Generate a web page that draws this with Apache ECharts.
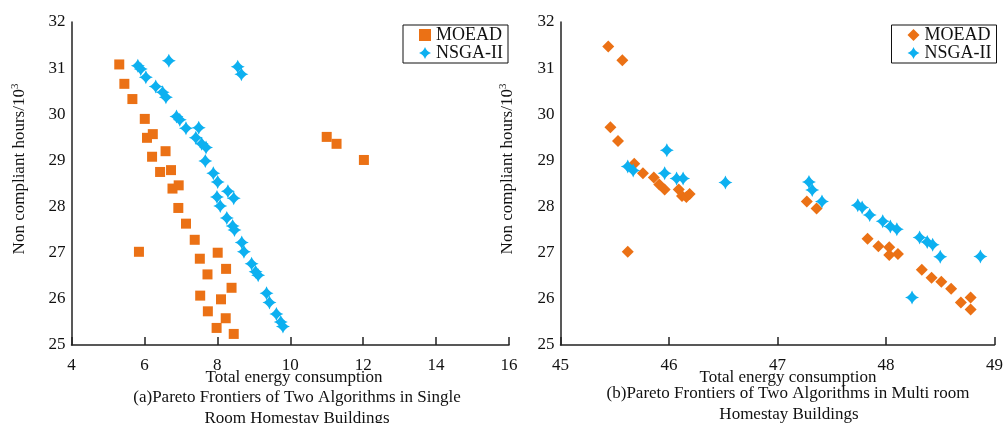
<!DOCTYPE html>
<html>
<head>
<meta charset="utf-8">
<script src="https://cdn.jsdelivr.net/npm/echarts@6/dist/echarts.min.js"></script>
<style>
  html, body { margin: 0; padding: 0; background: #fff; }
  #pareto_charts { width: 1006px; height: 423px; }
</style>
</head>
<body>
<div id="pareto_charts"></div>
<script>
// 算法名称
const algoNames = ['MOEAD', 'NSGA-II']

// 坐标轴刻度范围
const leftXTicks = [4, 16, 2]
const rightXTicks = [45, 49, 1]
const yTicks = [25, 32, 1]

// (a) 单房间 —— [能耗, 不满足小时数]
const leftMoead = [
  [5.31, 31.08], [5.45, 30.66], [5.67, 30.33], [6.01, 29.9], [6.07, 29.49],
  [6.23, 29.57], [6.21, 29.08], [6.58, 29.2], [6.43, 28.75], [6.73, 28.79],
  [6.77, 28.39], [6.94, 28.46], [6.93, 27.97], [7.14, 27.63], [7.38, 27.28],
  [7.52, 26.87], [8.01, 27.0], [7.73, 26.53], [8.24, 26.65], [8.39, 26.24],
  [7.53, 26.07], [8.1, 25.99], [7.74, 25.73], [8.23, 25.58], [7.98, 25.37],
  [8.45, 25.24], [5.85, 27.02], [11.0, 29.51], [11.27, 29.36], [12.02, 29.01]
]
const leftNsga = [
  [5.82, 31.05], [5.9, 30.98], [6.04, 30.8], [6.31, 30.6], [6.5, 30.48],
  [6.59, 30.37], [6.67, 31.16], [8.56, 31.03], [8.66, 30.87], [6.88, 29.95],
  [6.97, 29.88], [7.14, 29.7], [7.49, 29.71], [7.41, 29.49], [7.57, 29.36],
  [7.69, 29.28], [7.67, 28.99], [7.89, 28.72], [8.01, 28.53], [8.29, 28.33],
  [7.99, 28.21], [8.45, 28.18], [8.08, 28.01], [8.26, 27.75], [8.42, 27.58],
  [8.47, 27.49], [8.67, 27.22], [8.73, 27.02], [8.94, 26.76], [9.05, 26.59],
  [9.12, 26.51], [9.35, 26.12], [9.43, 25.92], [9.62, 25.67], [9.74, 25.5],
  [9.8, 25.4]
]

// (b) 多房间
const rightMoead = [
  [45.44, 31.47], [45.57, 31.17], [45.46, 29.72], [45.53, 29.42], [45.68, 28.93],
  [45.76, 28.72], [45.86, 28.63], [45.91, 28.48], [45.96, 28.37], [46.09, 28.37],
  [46.12, 28.23], [46.16, 28.21], [46.19, 28.27], [45.62, 27.02], [47.27, 28.11],
  [47.36, 27.96], [47.83, 27.3], [47.93, 27.14], [48.03, 27.12], [48.03, 26.95],
  [48.11, 26.97], [48.33, 26.63], [48.42, 26.46], [48.51, 26.37], [48.6, 26.22],
  [48.69, 25.92], [48.78, 26.03], [48.78, 25.77]
]
const rightNsga = [
  [45.98, 29.22], [45.62, 28.87], [45.67, 28.78], [45.96, 28.72], [46.07, 28.61],
  [46.13, 28.61], [46.52, 28.52], [47.29, 28.53], [47.32, 28.36], [47.41, 28.11],
  [47.74, 28.03], [47.78, 27.98], [47.85, 27.82], [47.97, 27.68], [48.04, 27.57],
  [48.1, 27.51], [48.31, 27.33], [48.38, 27.23], [48.43, 27.17], [48.5, 26.91],
  [48.87, 26.92], [48.24, 26.03]
]

const ORANGE = '#EB7115'
const BLUE = '#0DB0F0'
const FONT = 'Liberation Serif'
// 四角星
const STAR = 'path://M0,-10 Q2.6,-2.6 10,0 Q2.6,2.6 0,10 Q-2.6,2.6 -10,0 Q-2.6,-2.6 0,-10 Z'

const GRID_TOP = 22
const GRID_BOTTOM = 78

function xAxisOf(idx, ticks) {
  return {
    type: 'value',
    gridIndex: idx,
    min: ticks[0],
    max: ticks[1],
    interval: ticks[2],
    splitLine: { show: false },
    axisLine: { lineStyle: { color: '#222', width: 1.5 } },
    axisTick: { inside: true, length: 8, lineStyle: { color: '#222', width: 1.5 } },
    axisLabel: { color: '#111', fontFamily: FONT, fontSize: 17, margin: 12 },
  }
}

function yAxisOf(idx) {
  return {
    type: 'value',
    gridIndex: idx,
    min: yTicks[0],
    max: yTicks[1],
    interval: yTicks[2],
    splitLine: { show: false },
    axisLine: { show: true, lineStyle: { color: '#222', width: 1.5 } },
    axisTick: { show: false },
    axisLabel: { color: '#111', fontFamily: FONT, fontSize: 17, margin: 6 },
  }
}

function captionText(text, x, y) {
  return {
    type: 'text',
    x: x,
    y: y,
    style: {
      text: text,
      font: '17px "' + FONT + '"',
      fill: '#111',
      align: 'center',
      verticalAlign: 'middle',
    },
  }
}

function yNameText(x, y) {
  return {
    type: 'text',
    x: x,
    y: y,
    rotation: Math.PI / 2,
    style: {
      text: '{a|Non compliant hours/10}{s|3}',
      align: 'center',
      verticalAlign: 'middle',
      rich: {
        a: { fontFamily: FONT, fontSize: 17, fill: '#111', color: '#111' },
        s: { fontFamily: FONT, fontSize: 11, fill: '#111', color: '#111', verticalAlign: 'top', padding: [0, 0, 10, 0] },
      },
    },
  }
}

function legendOf(right, firstIcon) {
  return {
    orient: 'vertical',
    right: right,
    top: 25,
    align: 'left',
    padding: [1, 5, 1, 16],
    itemGap: 0,
    itemWidth: 12,
    itemHeight: 12,
    borderColor: '#111',
    borderWidth: 1,
    borderRadius: 0,
    textStyle: { fontFamily: FONT, fontSize: 18, color: '#111', lineHeight: 18 },
    data: [
      { name: algoNames[0], icon: firstIcon },
      { name: algoNames[1], icon: STAR },
    ],
  }
}

const nodeDiv = document.getElementById('pareto_charts')
const myChart = echarts.init(nodeDiv, null, { renderer: 'canvas' })

const option = {
  animation: false,
  backgroundColor: '#fff',
  grid: [
    { left: 71.5, right: 497, top: GRID_TOP, bottom: GRID_BOTTOM },
    { left: 560.5, right: 8.5, top: GRID_TOP, bottom: GRID_BOTTOM },
  ],
  xAxis: [xAxisOf(0, leftXTicks), xAxisOf(1, rightXTicks)],
  yAxis: [yAxisOf(0), yAxisOf(1)],
  legend: [legendOf(498, 'rect'), legendOf(9.5, 'diamond')],
  series: [
    {
      name: algoNames[0], type: 'scatter', xAxisIndex: 0, yAxisIndex: 0,
      symbol: 'rect', symbolSize: 10, itemStyle: { color: ORANGE, opacity: 1 },
      data: leftMoead,
    },
    {
      name: algoNames[1], type: 'scatter', xAxisIndex: 0, yAxisIndex: 0,
      symbol: STAR, symbolSize: 14, itemStyle: { color: BLUE, opacity: 1 },
      data: leftNsga,
    },
    {
      name: algoNames[0], type: 'scatter', xAxisIndex: 1, yAxisIndex: 1,
      symbol: 'diamond', symbolSize: 12, itemStyle: { color: ORANGE, opacity: 1 },
      data: rightMoead,
    },
    {
      name: algoNames[1], type: 'scatter', xAxisIndex: 1, yAxisIndex: 1,
      symbol: STAR, symbolSize: 14, itemStyle: { color: BLUE, opacity: 1 },
      data: rightNsga,
    },
  ],
  graphic: [
    yNameText(20, 169),
    yNameText(508, 169),
    captionText('Total energy consumption', 294, 378),
    captionText('(a)Pareto Frontiers of Two Algorithms in Single', 297, 398),
    captionText('Room Homestay Buildings', 297, 419),
    captionText('Total energy consumption', 788, 378),
    captionText('(b)Pareto Frontiers of Two Algorithms in Multi room', 788, 394),
    captionText('Homestay Buildings', 789, 415),
  ],
}
myChart.setOption(option)
</script>
</body>
</html>
